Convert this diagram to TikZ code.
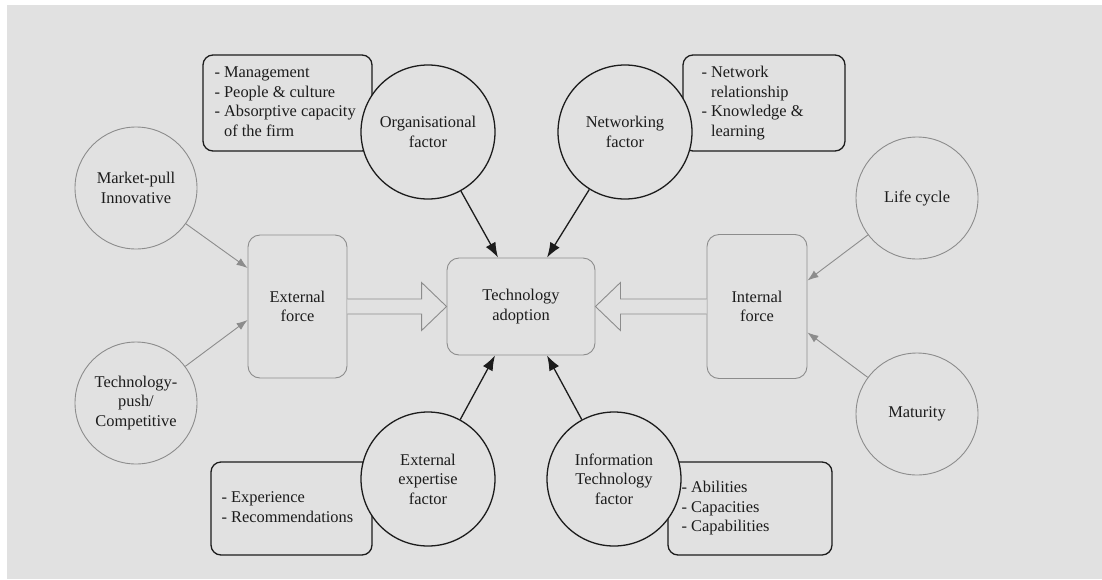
\documentclass[tikz,border=0pt]{standalone}
\usepackage{fontspec}
\setmainfont{Liberation Serif}
\usetikzlibrary{arrows.meta,positioning}

\definecolor{bggray}{HTML}{E1E1E1}
\definecolor{ink}{HTML}{1C1C1C}
\definecolor{soft}{HTML}{8C8C8C}

\tikzstyle{factor}=[circle, draw=ink, line width=1.3pt, fill=bggray, minimum size=134pt, inner sep=0pt, align=center, text=ink]
\tikzstyle{driver}=[circle, draw=soft, line width=0.9pt, fill=bggray, minimum size=122pt, inner sep=0pt, align=center, text=ink]
\tikzstyle{force}=[rectangle, rounded corners=12pt, draw=soft, line width=0.9pt, align=center, text=ink]
\tikzstyle{detail}=[rectangle, rounded corners=10pt, draw=ink, line width=1.3pt]
\tikzstyle{items}=[align=left, text=ink, inner sep=0pt]
\tikzstyle{arrow}=[line width=1.3pt, draw=ink, -{Latex[length=15pt, width=11pt]}]
\tikzstyle{softarrow}=[line width=0.9pt, draw=soft, -{Latex[length=11pt, width=8pt]}]
\tikzstyle{hollow}=[draw=soft, line width=0.9pt, fill=bggray, line join=miter]

\begin{document}
\begin{tikzpicture}[x=1pt, y=-1pt, font=\fontsize{16.4}{19.5}\selectfont]
      \useasboundingbox (0,0) rectangle (1102,579);
      \fill[white] (0,0) rectangle (1102,579);
      \fill[bggray] (7,5) rectangle (1102,579);

      % detail boxes behind the factor circles
      \node[detail, minimum width=169pt, minimum height=96pt] (orgbox) at (287.5, 103) {};
      \node[detail, minimum width=162pt, minimum height=96pt] (netbox) at (764, 103) {};
      \node[detail, minimum width=161pt, minimum height=93pt] (expbox) at (291.5, 508.5) {};
      \node[detail, minimum width=164pt, minimum height=93pt] (itbox) at (750, 508.5) {};

      \node[factor] (org) at (428, 132) {Organisational\\factor};
      \node[factor] (net) at (625, 132) {Networking\\factor};
      \node[factor] (expert) at (428, 479) {External\\expertise\\factor};
      \node[factor] (it) at (614, 479) {Information\\Technology\\factor};

      \node[driver] (market) at (136, 188) {Market-pull\\Innovative};
      \node[driver] (push) at (136, 403) {Technology-\\push/\\Competitive};
      \node[driver] (life) at (917, 198) {Life cycle};
      \node[driver] (mature) at (917, 414) {Maturity};

      \node[force, minimum width=99pt, minimum height=143pt] (ext) at (297.5, 306.5) {External\\force};
      \node[force, minimum width=148pt, minimum height=97pt] (adopt) at (521, 306.5) {Technology\\adoption};
      \node[force, minimum width=100pt, minimum height=144pt] (int) at (757, 306.5) {Internal\\force};

      \node[items, anchor=west, right=12pt of orgbox.west] (orglist) {\begin{tabular}{@{}l@{ }l@{}}-&Management\\-&People \& culture\\-&Absorptive capacity\\&of the firm\end{tabular}};
      \node[items, anchor=west, right=19pt of netbox.west] (netlist) {\begin{tabular}{@{}l@{ }l@{}}-&Network\\&relationship\\-&Knowledge \&\\&learning\end{tabular}};
      \node[items, anchor=west, right=11pt of expbox.west] (explist) {\begin{tabular}{@{}l@{ }l@{}}-&Experience\\-&Recommendations\end{tabular}};
      \node[items, anchor=west, right=14pt of itbox.west] (itlist) {\begin{tabular}{@{}l@{ }l@{}}-&Abilities\\-&Capacities\\-&Capabilities\end{tabular}};

      \draw[hollow] ([yshift=7.5pt]ext.east) -- ([xshift=-25pt, yshift=7.5pt]adopt.west) -- ([xshift=-25pt, yshift=24pt]adopt.west) -- (adopt.west) -- ([xshift=-25pt, yshift=-24pt]adopt.west) -- ([xshift=-25pt, yshift=-7.5pt]adopt.west) -- ([yshift=-7.5pt]ext.east);
      \draw[hollow] ([yshift=7.5pt]int.west) -- ([xshift=25pt, yshift=7.5pt]adopt.east) -- ([xshift=25pt, yshift=24pt]adopt.east) -- (adopt.east) -- ([xshift=25pt, yshift=-24pt]adopt.east) -- ([xshift=25pt, yshift=-7.5pt]adopt.east) -- ([yshift=-7.5pt]int.west);

      \draw[softarrow] (market) to ([yshift=38.5pt]ext.west);
      \draw[softarrow] (push) to ([yshift=-13.5pt]ext.west);
      \draw[softarrow] (life) to ([yshift=26pt]int.east);
      \draw[softarrow] (mature) to ([yshift=-26pt]int.east);

      \draw[arrow] (org) to ([xshift=-23pt]adopt.north);
      \draw[arrow] (net) to ([xshift=26pt]adopt.north);
      \draw[arrow] (expert) to ([xshift=-26pt]adopt.south);
      \draw[arrow] (it) to ([xshift=26pt]adopt.south);
    \end{tikzpicture}
\end{document}
